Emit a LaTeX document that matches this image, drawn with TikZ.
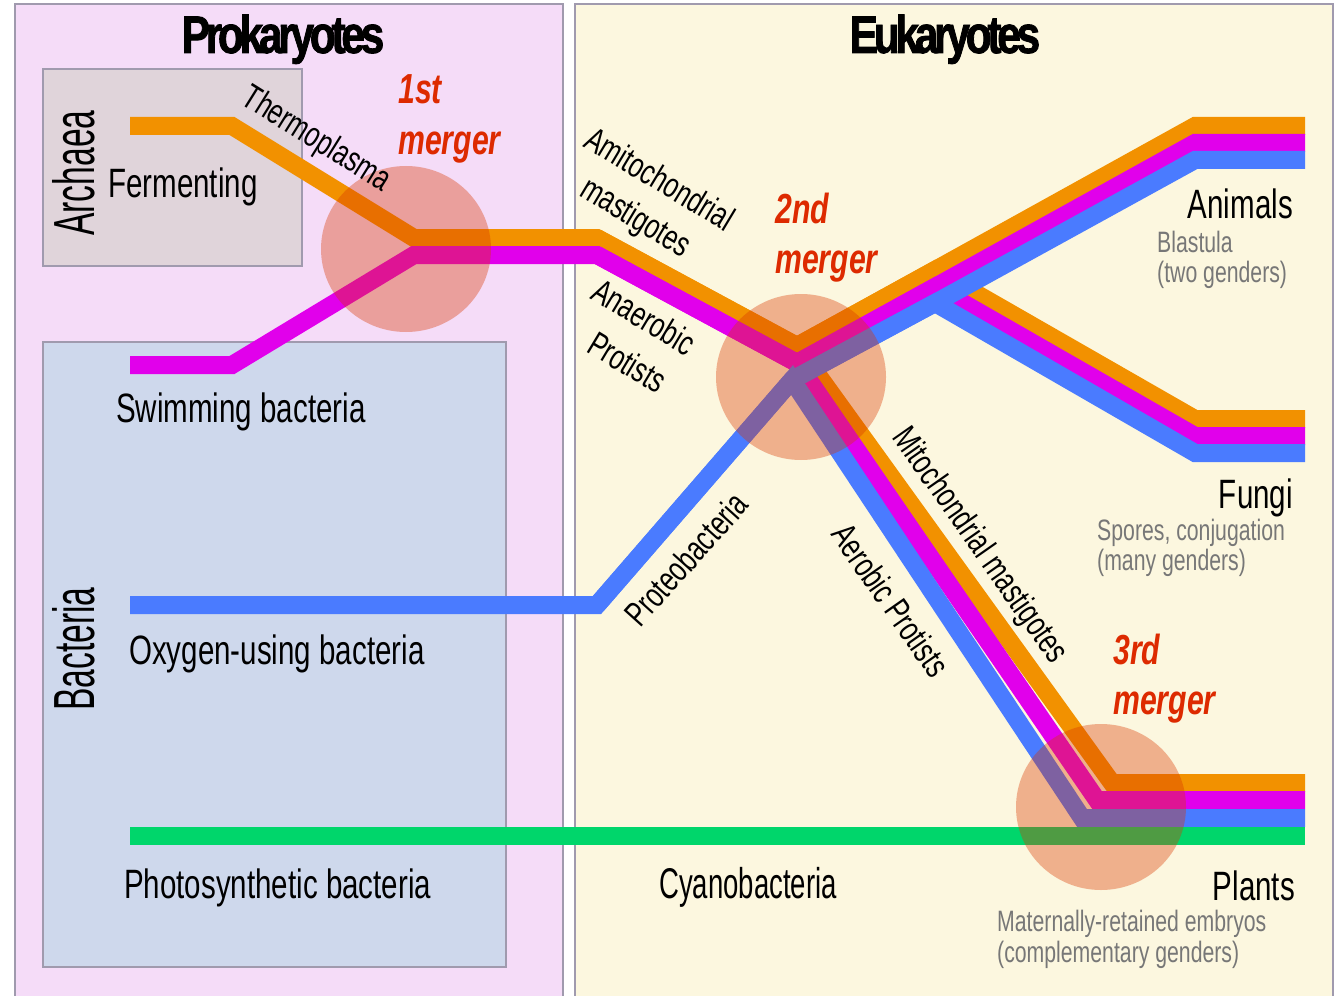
\documentclass[tikz,border=0pt]{standalone}
\usepackage{fontspec}
\setmainfont{Liberation Sans}
\newfontfamily\narrow[FakeStretch=0.72]{Liberation Sans}
\newfontfamily\cnarrow[FakeStretch=0.64]{Liberation Sans}
\newfontfamily\vnarrow[FakeStretch=0.58]{Liberation Sans}
\newfontfamily\titlefont[FakeStretch=0.8, LetterSpace=-8, FakeBold=1.5]{Liberation Sans Bold}

\definecolor{prokbg}{HTML}{F5DCF8}
\definecolor{eukbg}{HTML}{FCF7DF}
\definecolor{archbg}{HTML}{E0D4DA}
\definecolor{bactbg}{HTML}{CED8EC}
\definecolor{framegray}{HTML}{A09AAE}
\definecolor{lorange}{HTML}{F29100}
\definecolor{lmagenta}{HTML}{E100EB}
\definecolor{lblue}{HTML}{4A7BFF}
\definecolor{lgreen}{HTML}{00D66B}
\definecolor{mergefill}{HTML}{D93700}
\definecolor{mergetext}{HTML}{DD2A00}
\definecolor{notegray}{HTML}{777777}

\tikzset{
  panel/.style={draw=framegray, line width=1.2pt},
  lineage/.style={line width=18pt, line join=miter, line cap=butt},
  mergezone/.style={fill=mergefill, fill opacity=0.37, draw=none},
  headline/.style={inner sep=0, font=\titlefont\fontsize{53}{60}\selectfont},
  domainname/.style={inner sep=0, rotate=90, font=\vnarrow\fontsize{58}{64}\selectfont},
  groupname/.style={inner sep=0, font=\narrow\fontsize{41}{46}\selectfont},
  along/.style={inner sep=0, font=\narrow\fontsize{35}{40}\selectfont},
  notetext/.style={inner sep=0, text=notegray, font=\narrow\fontsize{29.5}{33}\selectfont},
  mergername/.style={inner sep=0, text=mergetext, font=\narrow\bfseries\itshape\fontsize{42}{48}\selectfont},
}

\begin{document}
\begin{tikzpicture}[x=1pt,y=-1pt]
\useasboundingbox (0,0) rectangle (1340,995);

% panels
\fill[white] (0,0) rectangle (1340,995);
\draw[panel, fill=prokbg] (15,4) rectangle (563,1000);
\draw[panel, fill=eukbg] (575,4) rectangle (1333,1000);
\draw[panel, fill=archbg] (43,69) rectangle (302,266);
\draw[panel, fill=bactbg] (43,342) rectangle (506,967);

% titles
\node[headline, anchor=base] (prok) at (283,53) {Prokaryotes};
\node[headline, anchor=base] (euk) at (945,53) {Eukaryotes};
\node[domainname] (archaea) at (74,173) {Archaea};
\node[domainname] (bacteria) at (74,649) {Bacteria};

% junction points
\coordinate (oA) at (130,126);  \coordinate (oB) at (232,126);
\coordinate (oC) at (414,238);  \coordinate (oD) at (597,238);
\coordinate (oV) at (797,346);  \coordinate (oF) at (935,270);
\coordinate (oAn) at (1195,126); \coordinate (oAe) at (1305,126);
\coordinate (oFu) at (1195,419); \coordinate (oFe) at (1305,419);
\coordinate (oPl) at (1112,783); \coordinate (oPe) at (1305,783);

\coordinate (mA) at (130,365);  \coordinate (mB) at (232,365);
\coordinate (mC) at (414,255);  \coordinate (mD) at (597,255);
\coordinate (mV) at (797,363);  \coordinate (mF) at (935,287);
\coordinate (mAn) at (1195,143); \coordinate (mAe) at (1305,143);
\coordinate (mFu) at (1195,436); \coordinate (mFe) at (1305,436);
\coordinate (mPl) at (1097,800); \coordinate (mPe) at (1305,800);

\coordinate (bA) at (130,605);  \coordinate (bB) at (597,605);
\coordinate (bV) at (792,380);  \coordinate (bF) at (935,303);
\coordinate (bAn) at (1195,160); \coordinate (bAe) at (1305,160);
\coordinate (bFu) at (1195,453); \coordinate (bFe) at (1305,453);
\coordinate (bPl) at (1082,818); \coordinate (bPe) at (1305,818);

\coordinate (gA) at (130,836);  \coordinate (gE) at (1305,836);

% fermenting lineage
\draw[lineage, lorange] (oA) -- (oB) -- (oC) -- (oD) -- (oV) -- (oF) -- (oAn) -- (oAe);
\draw[lineage, lorange] (oV) -- (oF) -- (oFu) -- (oFe);
\draw[lineage, lorange] (oD) -- (oV) -- (oPl) -- (oPe);
% swimming lineage
\draw[lineage, lmagenta] (mA) -- (mB) -- (mC) -- (mD) -- (mV) -- (mF) -- (mAn) -- (mAe);
\draw[lineage, lmagenta] (mV) -- (mF) -- (mFu) -- (mFe);
\draw[lineage, lmagenta] (mD) -- (mV) -- (mPl) -- (mPe);
% oxygen-using lineage
\draw[lineage, lblue] (bA) -- (bB) -- (bV) -- (bF) -- (bAn) -- (bAe);
\draw[lineage, lblue] (bV) -- (bF) -- (bFu) -- (bFe);
\draw[lineage, lblue] (bB) -- (bV) -- (bPl) -- (bPe);
% photosynthetic lineage
\draw[lineage, lgreen] (gA) -- (gE);

% mergers
\fill[mergezone] (406,249) ellipse [x radius=85, y radius=83];
\fill[mergezone] (801,377) ellipse [x radius=85, y radius=83];
\fill[mergezone] (1101,807) ellipse [x radius=85, y radius=83];

\node[mergername, anchor=base west] (m1a) at (398,104) {1st};
\node[mergername, anchor=base west] (m1b) at (398,155) {merger};
\node[mergername, anchor=base west] (m2a) at (775,223) {2nd};
\node[mergername, anchor=base west] (m2b) at (775,273) {merger};
\node[mergername, anchor=base west] (m3a) at (1113,664) {3rd};
\node[mergername, anchor=base west] (m3b) at (1113,714) {merger};

% group names
\node[groupname, anchor=base west] (ferm) at (108,197) {Fermenting};
\node[groupname, anchor=base west] (swim) at (116,422) {Swimming bacteria};
\node[groupname, anchor=base west] (oxy) at (129,664) {Oxygen-using bacteria};
\node[groupname, anchor=base west] (photo) at (124,898) {Photosynthetic bacteria};
\node[groupname, anchor=base west, font=\cnarrow\fontsize{43}{46}\selectfont] (cyano) at (659,898) {Cyanobacteria};
\node[groupname, anchor=base east] (animals) at (1293,218) {Animals};
\node[groupname, anchor=base east] (fungi) at (1293,508) {Fungi};
\node[groupname, anchor=base east] (plants) at (1295,900) {Plants};

\node[notetext, anchor=base west] (an1) at (1157,252) {Blastula};
\node[notetext, anchor=base west] (an2) at (1157,282) {(two genders)};
\node[notetext, anchor=base west] (fu1) at (1097,540) {Spores, conjugation};
\node[notetext, anchor=base west] (fu2) at (1097,570) {(many genders)};
\node[notetext, anchor=base west] (pl1) at (997,931) {Maternally-retained embryos};
\node[notetext, anchor=base west] (pl2) at (997,962) {(complementary genders)};

% names along the lineages
\node[along, rotate=-32] (thermo) at (316,140) {Thermoplasma};
\node[along, rotate=-31, anchor=base west] (amito1) at (582,146) {Amitochondrial};
\node[along, rotate=-31, anchor=base west] (amito2) at (578,195) {mastigotes};
\node[along, rotate=-31, anchor=base west] (anaer1) at (589,298) {Anaerobic};
\node[along, rotate=-31, anchor=base west] (anaer2) at (585,351) {Protists};
\node[along, rotate=48] (proteo) at (686,559) {Proteobacteria};
\node[along, rotate=-55] (mito) at (979,546) {Mitochondrial mastigotes};
\node[along, rotate=-55] (aerob) at (891,600) {Aerobic Protists};
\end{tikzpicture}
\end{document}
